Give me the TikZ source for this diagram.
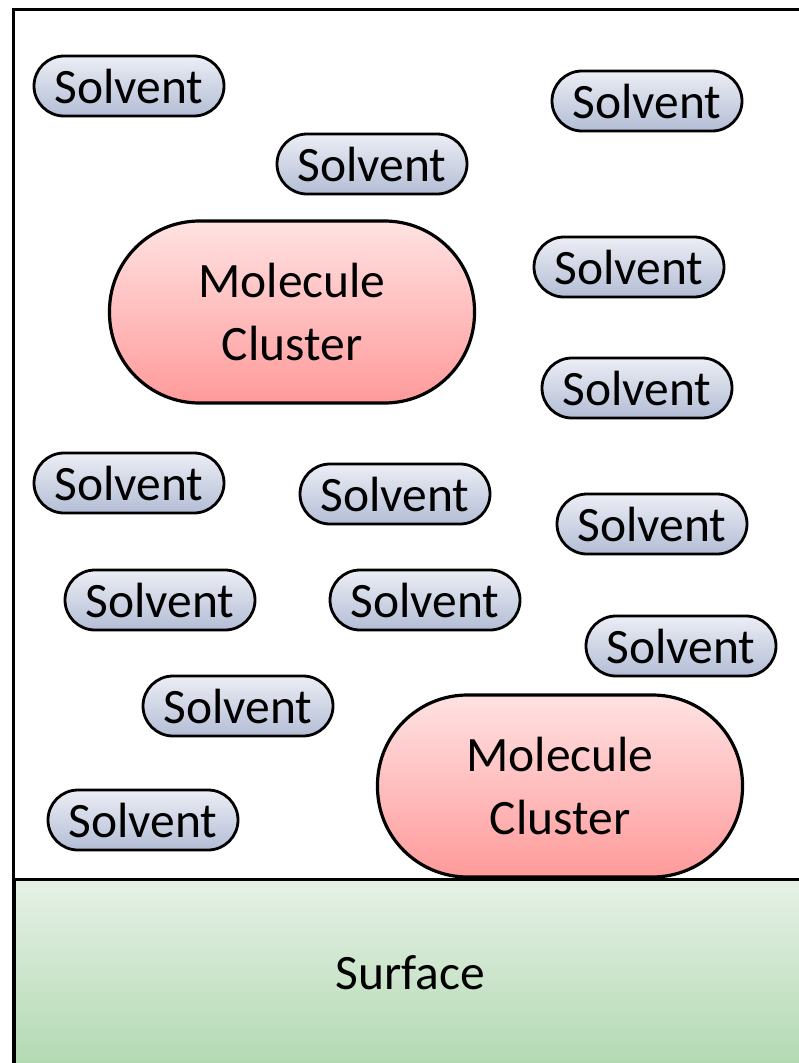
\documentclass[tikz,border=0pt]{standalone}
\usepackage{fontspec}
\setmainfont{Carlito}
\definecolor{solvTop}{HTML}{ECEEF5}
\definecolor{solvBot}{HTML}{B3BDD5}
\definecolor{clTop}{HTML}{FFE2E2}
\definecolor{clBot}{HTML}{FF9A9A}
\definecolor{surfTop}{HTML}{E7F1E7}
\definecolor{surfBot}{HTML}{B2D9B2}
\begin{document}
\begin{tikzpicture}[x=1pt,y=-1pt,
  solvent/.style={draw, line width=2.8pt, rounded corners=30pt, minimum width=190pt,
    minimum height=60pt, inner sep=0pt, top color=solvTop, bottom color=solvBot,
    font=\fontsize{49.5}{58}\selectfont},
  cluster/.style={draw, line width=3.2pt, rounded corners=90pt, minimum width=365pt,
    minimum height=182pt, inner sep=0pt, align=center, top color=clTop, bottom color=clBot,
    font=\fontsize{49.5}{63}\selectfont},
  surface/.style={draw, line width=3pt, minimum width=792pt, minimum height=186pt,
    inner sep=0pt, anchor=north west, top color=surfTop, bottom color=surfBot,
    font=\fontsize{49.5}{58}\selectfont},
  frame/.style={line width=3pt}]
\useasboundingbox (0,0) rectangle (798,1063);
\draw[frame] (806,9) -| (13,1070);
\node[surface] (surf) at (13,878) {Surface};
\node[cluster] (c1) at (292,312) {Molecule\\Cluster};
\node[cluster] (c2) at (560,786) {Molecule\\Cluster};
\node[solvent] (s1) at (129,86) {Solvent};
\node[solvent] (s2) at (647,101) {Solvent};
\node[solvent] (s3) at (372,164) {Solvent};
\node[solvent] (s4) at (629,267) {Solvent};
\node[solvent] (s5) at (637,388) {Solvent};
\node[solvent] (s6) at (129,483) {Solvent};
\node[solvent] (s7) at (395,494) {Solvent};
\node[solvent] (s8) at (652,524) {Solvent};
\node[solvent] (s9) at (160,600) {Solvent};
\node[solvent] (s10) at (425,600) {Solvent};
\node[solvent] (s11) at (681,646) {Solvent};
\node[solvent] (s12) at (238,706) {Solvent};
\node[solvent] (s13) at (143,820) {Solvent};
\end{tikzpicture}
\end{document}
